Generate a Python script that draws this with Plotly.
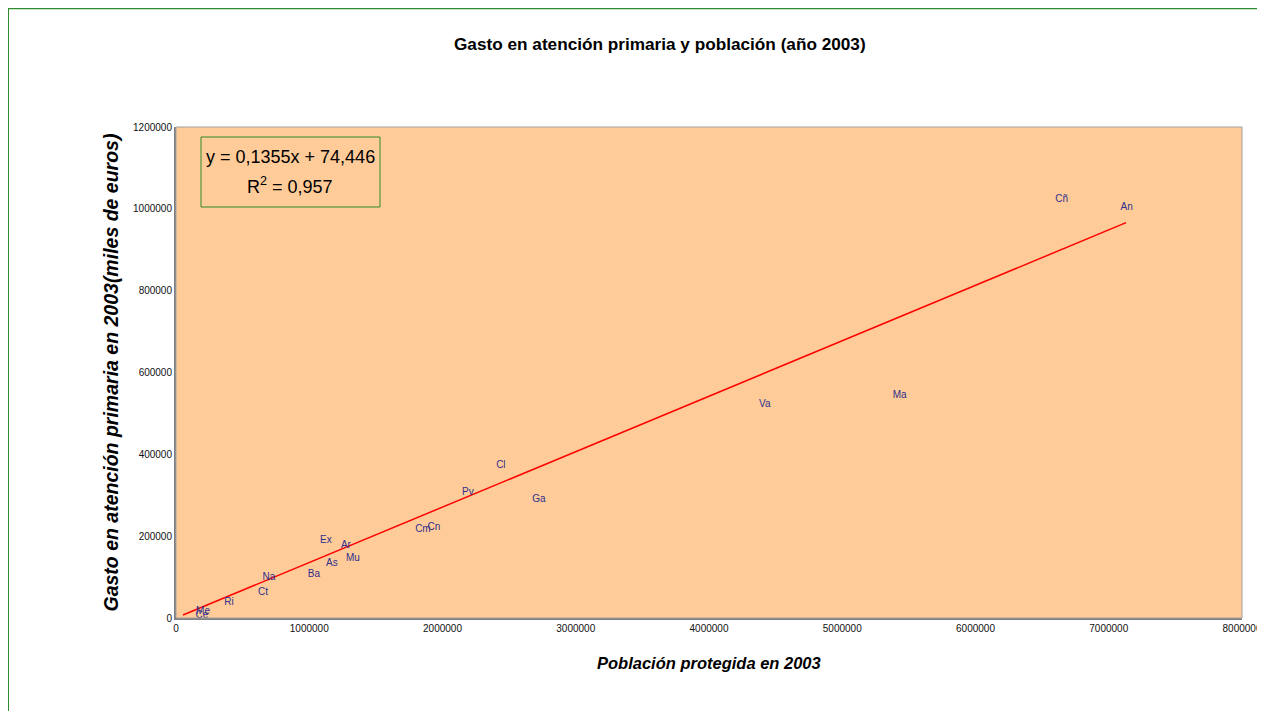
import plotly.graph_objects as go

# Data
regions = ["Cl", "Pv", "Ga", "Cm", "Cn", "Ex", "Ar", "As", "Mu", "Na", "Ba", "Ct",
           "Ri", "Me", "Ce", "Cñ", "An", "Va", "Ma"]
poblacion = [2438000, 2190000, 2723000, 1853000, 1935000, 1125000, 1275000, 1170000,
             1328000, 698000, 1035000, 653000, 398000, 203000, 195000, 6647000,
             7134000, 4419000, 5431000]
gasto = [371500, 307900, 290800, 217500, 222400, 190600, 176000, 134400, 146600,
         100200, 107500, 63500, 36700, 17100, 7300, 1024000, 1004000, 523000, 545000]

slope = 0.1355
intercept = 74.446
trend_x = [52500, 7130000]
trend_y = [slope * v + intercept for v in trend_x]

x_ticks = [0, 1000000, 2000000, 3000000, 4000000, 5000000, 6000000, 7000000, 8000000]
y_ticks = [0, 200000, 400000, 600000, 800000, 1000000, 1200000]

# figure geometry (pixels)
W, H = 1265, 703
L, T, B = 168, 119, 93
PW = 1066
R = W - L - PW
PH = H - T - B


def px(xp):
    return (xp - L) / PW


def py(yp):
    return (H - B - yp) / PH


FONT = "Liberation Sans, Arial, sans-serif"
GREEN = "#2E8B2E"

fig = go.Figure()
fig.add_trace(go.Scatter(x=trend_x, y=trend_y, mode="lines",
                         line=dict(color="#FF0000", width=1.5),
                         hoverinfo="skip", showlegend=False))
fig.add_trace(go.Scatter(x=poblacion, y=gasto, mode="text", text=regions,
                         textposition="middle center",
                         textfont=dict(family=FONT, size=10, color="#2E2E8C"),
                         showlegend=False))

fig.update_layout(
    width=W, height=H,
    margin=dict(l=L, r=R, t=T, b=B, autoexpand=False),
    paper_bgcolor="white",
    plot_bgcolor="#FFCC99",
    font=dict(family=FONT, color="#000000"),
    xaxis=dict(range=[0, 8000000], tickvals=x_ticks, tickformat="d", automargin=False,
               showgrid=False, zeroline=False, showline=True, linecolor="#808080",
               linewidth=2, ticks="", tickfont=dict(size=10, color="#111111")),
    yaxis=dict(range=[0, 1200000], tickvals=y_ticks, tickformat="d", automargin=False,
               showgrid=False, zeroline=False, showline=True, linecolor="#808080",
               linewidth=2, ticks="", tickfont=dict(size=10, color="#111111")),
    shapes=[
        # plot area border
        dict(type="rect", xref="paper", yref="paper", x0=0, y0=0, x1=1, y1=1,
             line=dict(color="#A0A0A0", width=1)),
        # chart area green borders (top and left)
        dict(type="line", xref="paper", yref="paper", x0=px(0), x1=px(W),
             y0=py(0.5), y1=py(0.5), line=dict(color=GREEN, width=1.5)),
        dict(type="line", xref="paper", yref="paper", x0=px(0), x1=px(0),
             y0=py(0), y1=py(H), line=dict(color=GREEN, width=2)),
        # equation box
        dict(type="rect", xref="paper", yref="paper",
             x0=px(193), x1=px(372), y0=py(199), y1=py(129),
             line=dict(color=GREEN, width=1)),
    ],
    annotations=[
        dict(xref="paper", yref="paper", x=px(652), y=py(36),
             text="<b>Gasto en atención primaria y población (año 2003)</b>",
             showarrow=False, xanchor="center", yanchor="middle",
             font=dict(size=17.2, color="#000000")),
        dict(xref="paper", yref="paper", x=px(102), y=0.5, textangle=-90,
             text="<b><i>Gasto en atención primaria en 2003(miles de euros)</i></b>",
             showarrow=False, xanchor="center", yanchor="middle",
             font=dict(size=19.5, color="#000000")),
        dict(xref="paper", yref="paper", x=px(701), y=py(655),
             text="<b><i>Población protegida en 2003</i></b>",
             showarrow=False, xanchor="center", yanchor="middle",
             font=dict(size=16.5, color="#000000")),
        dict(xref="paper", yref="paper", x=px(282), y=py(149),
             text="y = 0,1355x + 74,446", showarrow=False,
             xanchor="center", yanchor="middle",
             font=dict(size=18, color="#000000")),
        dict(xref="paper", yref="paper", x=px(282), y=py(177),
             text="R<sup>2</sup> = 0,957", showarrow=False,
             xanchor="center", yanchor="middle",
             font=dict(size=18, color="#000000")),
    ],
)

fig.write_html("out.html")
